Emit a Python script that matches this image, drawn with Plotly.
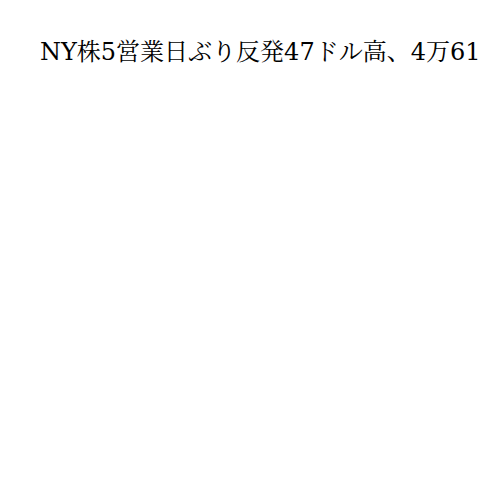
import plotly.graph_objects as go

# chart is empty apart from its title
title_text = "NY株5営業日ぶり反発47ドル高、4万61"
x_values = []
y_values = []

fig = go.Figure(data=[go.Scatter(x=x_values, y=y_values, mode="lines")])

fig.update_layout(
    width=500,
    height=500,
    paper_bgcolor="white",
    plot_bgcolor="white",
    showlegend=False,
    margin=dict(l=40, r=20, t=80, b=40),
    title=dict(
        text=title_text,
        x=32 / 500,
        xanchor="left",
        xref="container",
        y=1 - 44 / 500,
        yanchor="middle",
        yref="container",
        font=dict(family="DejaVu Serif, Noto Serif CJK JP, Noto Sans CJK JP, serif",
                  size=24, color="black"),
    ),
    xaxis=dict(visible=False),
    yaxis=dict(visible=False),
)

fig.write_html("out.html")
